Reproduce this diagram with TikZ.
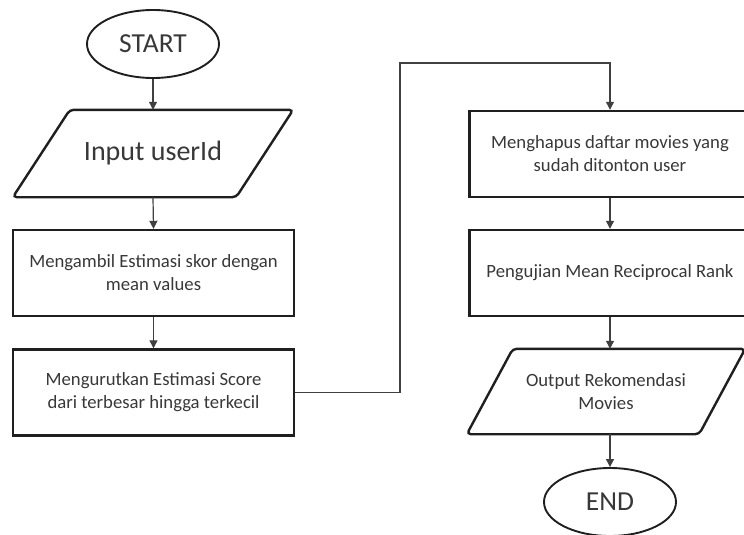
\documentclass[tikz,border=0pt]{standalone}
\usepackage{fontspec}
\setmainfont{Carlito}
\usetikzlibrary{calc,shapes.geometric,arrows.meta}
\begin{document}
\begin{tikzpicture}[x=1pt,y=-1pt,
  every node/.style={text=black!78, inner sep=0pt},
  shapeline/.style={draw=black!88, line width=2.4pt},
  procbox/.style={shapeline, rectangle, minimum width=281pt, minimum height=86pt,
    align=center, font=\fontsize{18.7}{23}\selectfont},
  terminal/.style={shapeline, line width=1.9pt, ellipse, minimum width=132pt, minimum height=68pt,
    font=\fontsize{27.5}{33}\selectfont},
  iobody/.style={rectangle, align=center},
  ioframe/.style={shapeline, rounded corners=4pt},
  flow/.style={draw=black!75, line width=1.2pt, -{Triangle[length=8pt,width=8pt]}}
]
\useasboundingbox (0,0) rectangle (744,535);

% left column
\node[terminal] (start) at (153,44) {START};
\node[iobody, minimum width=223pt, minimum height=87pt, font=\fontsize{28}{34}\selectfont]
  (input) at (153,153.5) {Input userId};
\draw[ioframe] ($(input.north west)+(28.5,0)$) -- ($(input.north east)+(28.5,0)$)
  -- ($(input.south east)+(-28.5,0)$) -- ($(input.south west)+(-28.5,0)$) -- cycle;
\node[procbox] (est) at (153.5,273) {Mengambil Estimasi skor dengan\\mean values};
\node[procbox] (sort) at (153.5,392.5) {Mengurutkan Estimasi Score\\dari terbesar hingga terkecil};

% right column
\node[procbox] (del) at (610,154) {Menghapus daftar movies yang\\sudah ditonton user};
\node[procbox] (mrr) at (610,273) {Pengujian Mean Reciprocal Rank};
\node[iobody, minimum width=232pt, minimum height=85pt, font=\fontsize{18.7}{23}\selectfont]
  (out) at (606,391.5) {Output Rekomendasi\\Movies};
\draw[ioframe] ($(out.north west)+(23,0)$) -- ($(out.north east)+(23,0)$)
  -- ($(out.south east)+(-23,0)$) -- ($(out.south west)+(-23,0)$) -- cycle;
\node[terminal] (end) at (610,502) {END};

% connectors
\coordinate (loop) at (400,63);
\draw[flow] (start.south) -- (input.north);
\draw[flow] (input.south) -- (est.north);
\draw[flow] (est.south) -- (sort.north);
\draw[flow] (sort.east) -| (loop) -| (del.north);
\draw[flow] (del.south) -- (mrr.north);
\draw[flow] (mrr.south) -- (mrr.south |- out.north);
\draw[flow] (end.north |- out.south) -- (end.north);
\end{tikzpicture}
\end{document}
